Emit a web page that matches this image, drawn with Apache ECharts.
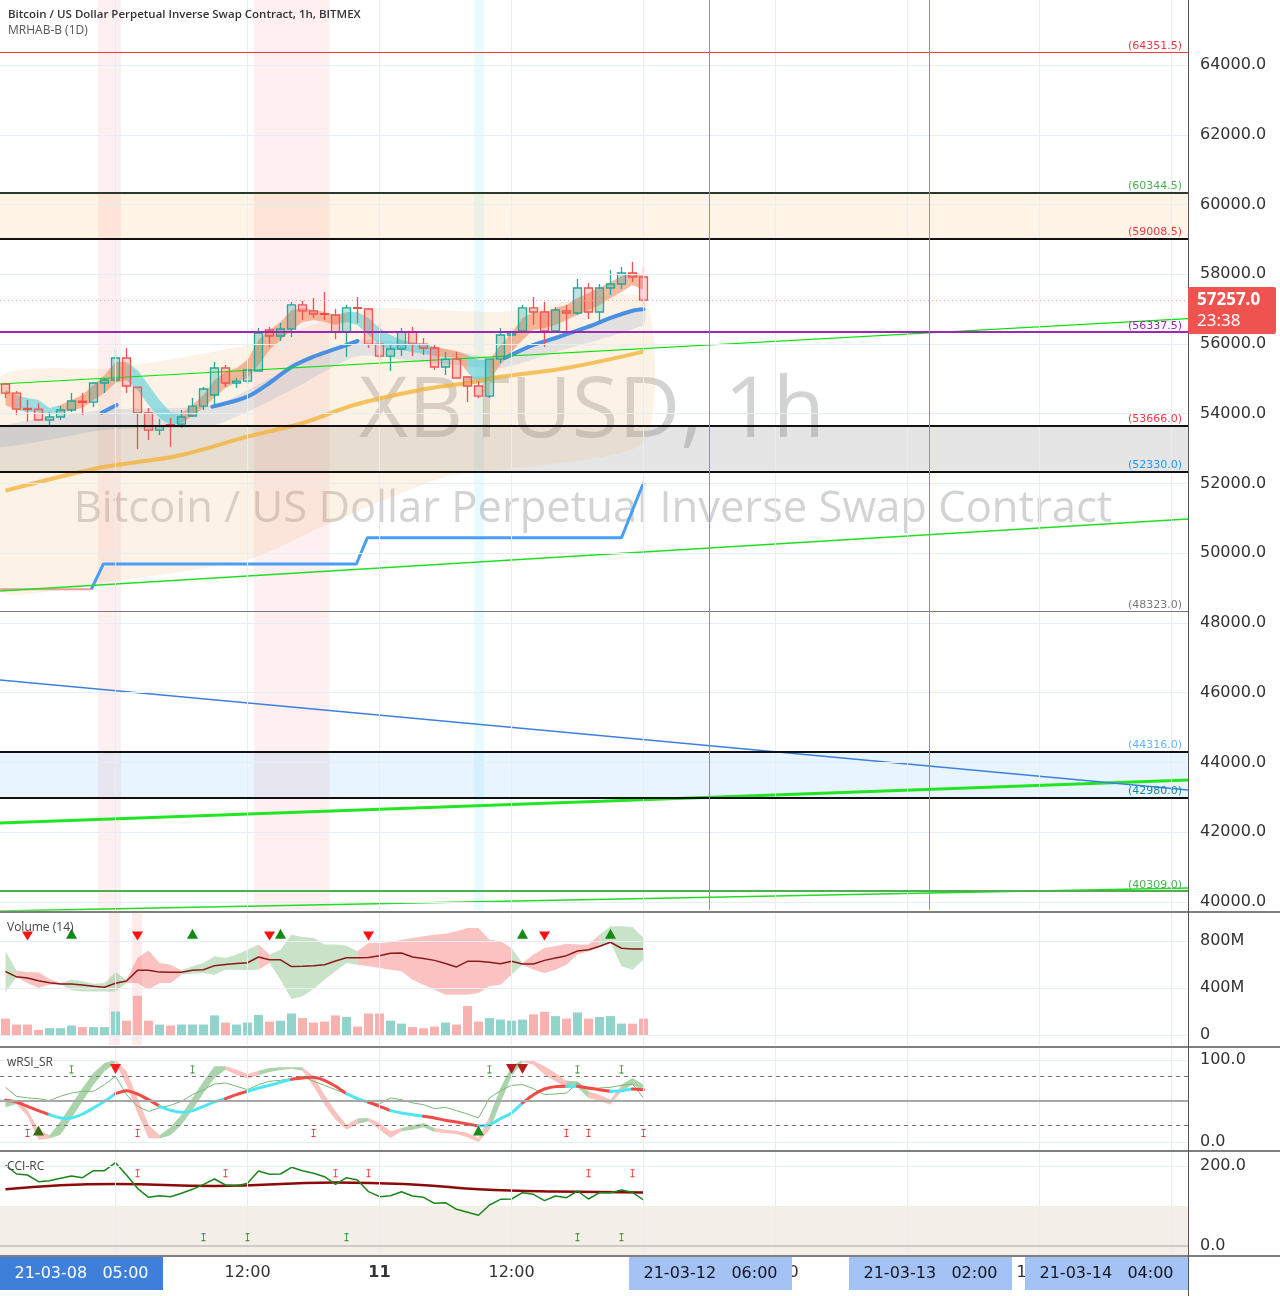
<!DOCTYPE html>
<html>
<head>
<meta charset="utf-8">
<script src="https://cdn.jsdelivr.net/npm/echarts@6/dist/echarts.min.js"></script>
<style>
  html, body { margin: 0; padding: 0; background: #fff; }
  #main { width: 1280px; height: 1296px; }
</style>
</head>
<body>
<div id="main"></div>
<script>
// ---- data (hour slots from 2021-03-09 14:00) ----
var START = Date.UTC(2021, 2, 9, 14);
var categories = [];
for (var h = 0; h < 108; h++) {
  categories.push(new Date(START + h * 3600e3).toISOString().slice(0, 13).replace('T', ' ') + ':00');
}
var tickIndex = [10, 22, 34, 46, 58, 70, 82, 94, 106];
var tickText = ['10', '12:00', '11', '12:00', '12', '12:00', '13', '12:00', '14'];
var priceTicks = [40000, 42000, 44000, 46000, 48000, 50000, 52000, 54000, 56000, 58000, 60000, 62000, 64000];
var priceMin = 39770, priceMax = 65864;

// open, close, low, high
var candles = [
  [54852, 54594, 54451, 54881], [54594, 54135, 53963, 54650], [54150, 54120, 53780, 54394], [54135, 53820, 53800, 54300],
  [53820, 53906, 53648, 54050], [53906, 54107, 53820, 54221], [54107, 54365, 54050, 54594], [54360, 54330, 53963, 54594],
  [54336, 54881, 54190, 54910], [54881, 54967, 54594, 55025], [54967, 55598, 54881, 55830], [55598, 54795, 54594, 55885],
  [54766, 54021, 52988, 54766], [54021, 53533, 53246, 54164], [53533, 53648, 53390, 53850], [53690, 53670, 53050, 53880],
  [53705, 53906, 53600, 54107], [53935, 54221, 53906, 54451], [54221, 54709, 54107, 54766], [54537, 55311, 54250, 55483],
  [55311, 54881, 54766, 55397], [54881, 54938, 54740, 55025], [54938, 55254, 54852, 55569], [55225, 56316, 55225, 56459],
  [56402, 56229, 55913, 56488], [56229, 56430, 56086, 56602], [56430, 57119, 56201, 57205], [57119, 56947, 56689, 57233],
  [56947, 56860, 56746, 57319], [56870, 56850, 56689, 57491], [56832, 56344, 56143, 57004], [56344, 57033, 55627, 57119],
  [57040, 57020, 56602, 57348], [57004, 55999, 55885, 57033], [55999, 55655, 55541, 56574], [55655, 55856, 55225, 55971],
  [55856, 56344, 55655, 56459], [56344, 55999, 55655, 56488], [55999, 55885, 55684, 56172], [55885, 55340, 55254, 55971],
  [55340, 55569, 55110, 55770], [55569, 55025, 55000, 55770], [55053, 54795, 54336, 55082], [54795, 54508, 54451, 54938],
  [54508, 55569, 54451, 55569], [55569, 56258, 55455, 56459], [56258, 56316, 55799, 56459], [56373, 57033, 56373, 57119],
  [57033, 56918, 56545, 57348], [56918, 56373, 55913, 57205], [56373, 56975, 56316, 57062], [56947, 56889, 56373, 57119],
  [56889, 57606, 56832, 57864], [57606, 56918, 56717, 57750], [56918, 57606, 56631, 57721], [57606, 57721, 57405, 58122],
  [57721, 58036, 57577, 58208], [58036, 57921, 57778, 58352], [57921, 57257, 57090, 58208]
];
var lastPrice = 57257.0;

// MRHAB ribbon (top / bottom), 1 = rising (salmon), 0 = falling (cyan)
var ribHi = [54681,54538,54452,54394,54165,54251,54394,54538,54825,55111,55484,55484,55255,54825,54394,54050,54022,54251,54538,54968,
  55197,55312,55541,56115,56402,56631,56975,57032,56975,56918,56832,56918,56918,56746,56459,56258,56115,56057,56000,55914,
  55857,55800,55685,55541,55541,55971,56316,56746,56918,56889,57032,57118,57319,57463,57606,57778,57950,58065,57979];
var ribLo = [54251,54108,54050,54050,53964,54022,54108,54165,54394,54595,54882,54968,54681,54251,53878,53677,53735,53936,54165,54480,
  54739,54911,55025,55398,55828,56115,56402,56631,56688,56631,56545,56631,56545,56258,55971,55828,55828,55771,55713,55656,
  55627,55599,55197,54853,54968,55398,55771,56115,56402,56459,56545,56688,56832,56975,57118,57319,57491,57692,57549];
var ribDir = [1,0,0,0,0,1,1,1,1,1,1,0,0,0,0,0,1,1,1,1,1,1,1,1,1,1,1,1,1,1,1,0,0,0,0,0,0,0,0,1,1,1,0,0,1,1,1,1,1,1,1,1,1,1,1,1,1,1,0];

var maSlow = [[0,51794],[8,52416],[12,52617],[16,52818],[22,53342],[27,53735],[32,54280],[38,54700],[42,54880],[45,55063],[51,55312],[58,55780]];
var maFast = [[8.75,54030],[10.1,54251],[10.5,'-'],[18.8,54203],[22,54489],[24,54882],[26,55341],[28,55636],[30,55857],[32,56086],[32.5,'-'],
  [45.4,55599],[48,55972],[50,56172],[53,56496],[55,56746],[57,56955],[58,56995]];
var fastBandHi = [[-0.5,53620],[9,54108],[19,54251],[26,55341],[32,56115],[38,55971],[45,55599],[50,56172],[58,57003]];
var fastBandLo = [[-0.5,53047],[9,53534],[19,53677],[26,54681],[32,55656],[38,55484],[45,55312],[50,55771],[58,56545]];
var cloudHi = [[-0.5,55025],[10,55312],[22,55971],[30,56746],[34,57032],[45,56918],[58,57319]];
var cloudLo = [[-0.5,48946],[8.4,49147],[22,49806],[29.5,50867],[40,52186],[58,53161]];

var stepX = [7.8, 8.9, 31.9, 32.9, 56, 58];
var stepY = [48967, 49692, 49692, 50446, 50446, 52023];
var baseX = [-0.5, 7.8];
var baseY = [48967, 48967];

var levelPrices = [64351.5, 60344.5, 59008.5, 56337.5, 53666.0, 52330.0, 48323.0, 44316.0, 42980.0, 40309.0];
var zonePairs = [[60344.5, 59008.5], [53666.0, 52330.0], [44316.0, 42980.0]];
// trend lines: price at left edge, price at right edge
var trendLeft = [54853, 48918, 42265, 39742, 46366];
var trendRight = [56726, 50982, 43498, 40402, 43212];
var markedHours = [64, 84];
var pinkBars = [[8.41, 10.5], [22.57, 29.45]];
var cyanBars = [[42.6, 43.5]];
var volPinkBars = [[9.4, 10.4], [11.5, 12.4]];

// volume (millions)
var volumes = [139,89,89,44,58,58,81,67,67,67,200,122,333,122,89,81,89,89,89,167,106,89,106,170,114,122,183,144,106,114,
  167,153,72,183,183,122,97,67,58,72,106,89,247,114,144,131,122,131,175,197,161,139,192,139,153,161,97,97,139];
var volMa = [540,495,485,462,445,434,434,425,414,406,440,460,550,550,535,533,533,550,555,590,600,608,615,664,640,640,582,585,590,598,
  630,658,658,660,675,695,698,664,650,635,608,579,627,627,620,607,627,604,604,635,655,675,715,726,755,789,738,732,732];
var volHi = [712,548,534,534,476,443,471,457,437,443,534,471,655,720,612,598,550,584,612,670,655,684,726,769,684,726,854,834,825,769,
  769,760,712,783,783,789,811,825,840,854,862,882,911,911,811,797,741,613,684,741,755,777,769,769,854,925,925,919,825];
var volLo = [363,491,443,400,428,434,380,371,371,371,371,443,443,386,443,443,513,522,528,513,556,556,550,556,613,471,306,329,392,471,
  542,613,598,584,570,556,542,471,428,386,343,343,343,357,414,428,513,598,556,528,556,598,684,712,740,789,584,556,641];
var volDir = [1,0,0,0,0,1,1,1,1,1,1,0,0,0,0,0,1,1,1,1,1,1,1,0,1,1,1,1,1,1,1,1,0,0,0,0,0,0,0,0,0,0,0,0,0,0,1,0,0,0,0,0,0,0,1,1,1,1,1];
var volDownMarks = [2, 12, 24, 33, 49];
var volUpMarks = [6, 17, 25, 47, 55];

// wRSI_SR
var rsiLine = [50.8,48.8,43.5,38.2,33.3,29.3,29.3,34.1,41.5,49.6,58.9,62.6,58.5,51.6,43.5,38.6,36.2,38.2,43.5,48.8,
  52.8,57.7,61.8,65.9,69.1,72.8,76.4,78.0,78.9,75.2,67.9,58.9,52.8,48.4,43.5,38.2,35.4,33.3,31.3,29.3,
  26.4,24.4,22.0,19.5,21.1,28.5,35.4,47.6,57.7,64.6,67.5,67.9,67.9,65.9,63.8,61.8,62.6,64.6,63.8];
var rsiLineDir = [0,0,0,0,1,1,1,1,1,1,0,0,0,0,1,1,1,1,1,1,0,0,1,1,1,1,0,0,0,0,0,1,1,0,0,1,1,1,0,0,0,0,0,1,1,1,1,0,0,0,0,1,0,0,0,1,1,0,0];
var rsiRaw = [66.6,55.7,53.7,52.8,50.4,55.7,59.7,61.8,61.8,69.9,80.1,57.7,43.5,37.4,41.5,44.7,49.6,57.7,63.8,70.7,
  71.9,67.9,63.8,69.9,74.0,75.2,77.2,80.1,74.0,69.1,63.8,58.5,51.6,47.6,46.3,53.7,51.6,47.6,45.5,40.6,
  42.3,38.2,34.1,29.3,53.7,62.6,69.1,69.9,65.0,57.7,58.5,59.7,71.9,63.8,65.9,66.6,69.1,70.7,53.7];
var rsiRibHi = [52.8,50.4,39.4,15.0,8.1,25.2,45.5,65.9,84.1,96.3,100.4,86.2,53.7,21.1,8.1,17.9,33.3,53.7,74.0,92.3,
  92.3,88.2,82.9,87.0,90.2,91.1,91.1,91.1,80.1,57.7,37.4,21.1,28.5,29.3,23.2,13.0,17.1,20.3,23.2,17.1,
  15.0,13.8,11.0,4.9,31.3,65.9,92.3,100.4,99.2,92.3,84.1,74.8,74.0,61.8,57.7,51.6,69.9,78.0,69.9];
var rsiRibLo = [42.3,46.3,31.3,2.8,4.1,8.9,29.3,49.6,69.9,86.2,96.3,69.9,35.4,4.9,4.1,8.1,21.1,39.4,59.7,78.0,
  88.2,82.1,77.2,81.3,85.4,87.8,89.4,87.0,67.9,45.5,27.2,15.0,21.9,25.2,15.0,4.9,13.0,15.0,17.9,12.2,
  11.0,9.8,5.7,0.0,15.0,47.6,80.1,97.6,94.3,82.1,74.0,65.9,66.7,53.7,50.4,45.5,61.8,69.9,61.8];
var rsiRibDir = [1,0,0,0,1,1,1,1,1,1,0,0,0,0,1,1,1,1,1,1,0,0,0,1,1,1,1,0,0,0,0,0,1,0,0,0,1,1,1,0,0,0,0,0,1,1,1,0,0,0,0,1,1,0,0,0,1,1,0];
var rsiSellMarks = [10];
var rsiSellDarkMarks = [46, 47];
var rsiBuyDarkMarks = [3];
var rsiBuyMarks = [43];
var rsiTopTicks = [6, 17, 44, 52, 56];
var rsiBottomTicks = [2, 12, 28, 51, 53, 58];

// CCI-RC
var cciLine = [202.5,180,177.5,160.8,163.3,169.2,175,170.8,188.3,188.3,208.3,177.5,144.2,121.7,125.8,123.3,131.7,141.7,154.2,167.5,
  152.5,150,156.7,187.5,179.2,180,196.7,188.3,181.7,173.3,154.2,170.8,165,135.8,123.3,125.8,135.8,125,121.7,106.7,
  108.3,91.7,84.2,76.7,102.5,116.7,117.5,133.3,129.2,113.3,125,120.8,137.5,117.5,133.3,133.3,140,134.2,115];
var cciSignal = [[0,142],[10,155],[19,150],[30,159],[37,154],[43,142],[50,136],[58,134]];
var cciTopTicks = [12, 20, 30, 33, 53, 57];
var cciBottomTicks = [18, 22, 31, 52, 56];

// ---- helpers ----
var FONT = 'DejaVu Sans';
var GRID_LINE = '#e6edf3';

function runs(dir) {
  var out = [], s = 0;
  for (var i = 1; i < dir.length - 1; i++) {
    if (dir[i] !== dir[s]) { out.push([s, i, dir[s]]); s = i; }
  }
  out.push([s, dir.length - 1, dir[s]]);
  return out;
}
function bandSeries(xi, yi, hi, lo, dir, colors, z) {
  return {
    type: 'custom', xAxisIndex: xi, yAxisIndex: yi, z: z, silent: true,
    encode: { x: 0 },
    data: runs(dir),
    renderItem: function (params, api) {
      var s = api.value(0), e = api.value(1), d = api.value(2), pts = [], i;
      for (i = s; i <= e; i++) pts.push(api.coord([i, hi[i]]));
      for (i = e; i >= s; i--) pts.push(api.coord([i, lo[i]]));
      return { type: 'polygon', shape: { points: pts }, style: { fill: colors[d] } };
    }
  };
}
function segLineSeries(xi, yi, vals, dir, colors, width, z) {
  return {
    type: 'custom', xAxisIndex: xi, yAxisIndex: yi, z: z, silent: true,
    encode: { x: 0 },
    data: runs(dir),
    renderItem: function (params, api) {
      var s = api.value(0), e = api.value(1), d = api.value(2), pts = [];
      for (var i = s; i <= e; i++) pts.push(api.coord([i, vals[i]]));
      return { type: 'polyline', shape: { points: pts, smooth: 0.25 },
        style: { stroke: colors[d], lineWidth: width, fill: 'none', lineCap: 'round', lineJoin: 'round' } };
    }
  };
}
function areaSeries(xi, yi, hiPts, loPts, color, z) {
  return {
    type: 'custom', xAxisIndex: xi, yAxisIndex: yi, z: z, silent: true,
    encode: { x: 0 }, data: [[0]],
    renderItem: function (params, api) {
      var pts = hiPts.map(function (p) { return api.coord(p); });
      loPts.slice().reverse().forEach(function (p) { pts.push(api.coord(p)); });
      return { type: 'polygon', shape: { points: pts, smooth: 0.2 }, style: { fill: color } };
    }
  };
}
function marks(xi, yi, idx, val, symbol, size, color, rotate) {
  return {
    type: 'scatter', xAxisIndex: xi, yAxisIndex: yi, z: 8, silent: true,
    symbol: symbol, symbolSize: size, symbolRotate: rotate || 0,
    itemStyle: { color: color, opacity: 1 },
    data: idx.map(function (i) { return [i, val]; })
  };
}
var IBEAM = 'path://M0,0H5V1.2H3V8.8H5V10H0V8.8H2V1.2H0Z';
var vGrid = tickIndex.map(function (x) { return { xAxis: x }; });

// ---- axes ----
var grids = [
  { left: 0, right: 92, top: 0, height: 910 },
  { left: 0, right: 92, top: 913, height: 132 },
  { left: 0, right: 92, top: 1048, height: 102 },
  { left: 0, right: 92, top: 1152, height: 103 }
];
var xAxes = [];
grids.forEach(function (g, gi) {
  var last = gi === 3;
  var showTick = function (i) { return tickIndex.indexOf(i) >= 0; };
  xAxes.push({
    type: 'category', gridIndex: gi, data: categories, boundaryGap: true,
    axisLine: { show: false },
    axisTick: { show: last, alignWithLabel: true, interval: showTick, length: 4, lineStyle: { color: '#555' } },
    splitLine: { show: false },
    axisLabel: {
      show: last, interval: showTick, margin: 10, fontSize: 16, color: '#333', fontFamily: FONT,
      formatter: function (v, i) {
        var t = tickText[tickIndex.indexOf(i)] || '';
        return t.indexOf(':') >= 0 ? t : '{b|' + t + '}';
      },
      rich: { b: { fontWeight: 'bold', fontSize: 16, color: '#333', fontFamily: FONT } }
    }
  });
  xAxes.push({ type: 'value', gridIndex: gi, min: -0.5, max: 107.5, show: false });
});

function yAxis(gi, min, max, ticks, fmt) {
  return {
    type: 'value', gridIndex: gi, position: 'right', min: min, max: max, scale: true,
    axisLine: { show: false }, splitLine: { show: false },
    axisTick: { show: true, customValues: ticks, length: 5, lineStyle: { color: '#555' } },
    axisLabel: { customValues: ticks, formatter: fmt, fontSize: 16, color: '#333', margin: 12, fontFamily: FONT }
  };
}
var fix1 = function (v) { return v.toFixed(1); };
var yAxes = [
  yAxis(0, priceMin, priceMax, priceTicks, fix1),
  yAxis(1, -85, 1038, [0, 400, 800], function (v) { return v === 0 ? '0' : v + 'M'; }),
  yAxis(2, -9.8, 114.6, [0, 100], fix1),
  yAxis(3, -22.5, 235, [0, 200], fix1)
];

// ---- main pane series ----
var levelStyles = [
  { c: '#f23645', w: 1, l: '#f23645' }, { c: '#2a3a2a', w: 2, l: '#4caf50' }, { c: '#111', w: 2, l: '#f23645' },
  { c: '#9c27b0', w: 2, l: '#9c27b0' }, { c: '#111', w: 2, l: '#f23645' }, { c: '#111', w: 2, l: '#2196f3' },
  { c: '#7a7a7a', w: 1, l: '#7a7a7a' }, { c: '#111', w: 2, l: '#64b5f6' }, { c: '#111', w: 2, l: '#138a9a' },
  { c: '#4caf50', w: 2, l: '#4caf50' }
];
var zoneColors = ['rgba(255,152,0,0.10)', 'rgba(110,110,110,0.18)', 'rgba(33,150,243,0.10)'];
var trendStyles = [
  { c: '#00e600', w: 1.2 }, { c: '#1fe01f', w: 1.6 }, { c: '#22e622', w: 3 }, { c: '#22dd22', w: 1.6 }, { c: '#3d7fe0', w: 1.5 }
];
var MARK_BLUE = '#5b9df0';

var series = [];
series.push({
  type: 'line', xAxisIndex: 1, yAxisIndex: 0, data: [], z: 1, silent: true,
  markLine: { symbol: 'none', silent: true, label: { show: false }, lineStyle: { color: GRID_LINE, width: 1, type: 'solid' },
    data: vGrid.concat(priceTicks.map(function (p) { return { yAxis: p }; })) },
  markArea: { silent: true,
    data: pinkBars.map(function (b) { return [{ xAxis: b[0], itemStyle: { color: 'rgba(242,54,69,0.08)' } }, { xAxis: b[1] }]; })
      .concat(cyanBars.map(function (b) { return [{ xAxis: b[0], itemStyle: { color: 'rgba(0,220,255,0.09)' } }, { xAxis: b[1] }]; }))
      .concat(zonePairs.map(function (z, k) { return [{ yAxis: z[0], itemStyle: { color: zoneColors[k] } }, { yAxis: z[1] }]; })) }
});
series.push(areaSeries(1, 0, cloudHi, cloudLo, 'rgba(240,190,130,0.2)', 1));
series.push(areaSeries(1, 0, fastBandHi, fastBandLo, 'rgba(90,130,190,0.15)', 2));
series.push(bandSeries(1, 0, ribHi, ribLo, ribDir, ['rgba(70,205,220,0.55)', 'rgba(242,140,95,0.6)'], 2));
series.push({ type: 'line', xAxisIndex: 1, yAxisIndex: 0, data: maSlow, smooth: 0.4, symbol: 'none', z: 3, silent: true,
  lineStyle: { color: 'rgba(242,180,60,0.8)', width: 4 } });
series.push({ type: 'line', xAxisIndex: 1, yAxisIndex: 0, data: maFast, smooth: 0.3, symbol: 'none', z: 3, silent: true,
  connectNulls: false, lineStyle: { color: '#4a90e2', width: 4, cap: 'round' } });
series.push({ type: 'line', xAxisIndex: 1, yAxisIndex: 0, symbol: 'none', z: 3, silent: true,
  data: baseX.map(function (x, i) { return [x, baseY[i]]; }), lineStyle: { color: '#ef9a9a', width: 2 } });
series.push({ type: 'line', xAxisIndex: 1, yAxisIndex: 0, symbol: 'none', z: 3, silent: true,
  data: stepX.map(function (x, i) { return [x, stepY[i]]; }), lineStyle: { color: '#4a9ef5', width: 3 } });
trendLeft.forEach(function (p, k) {
  series.push({ type: 'line', xAxisIndex: 1, yAxisIndex: 0, symbol: 'none', z: 3, silent: true,
    data: [[-0.5, p], [107.5, trendRight[k]]], lineStyle: { color: trendStyles[k].c, width: trendStyles[k].w } });
});
series.push({
  type: 'candlestick', xAxisIndex: 0, yAxisIndex: 0, z: 4, barWidth: 8, data: candles, silent: true,
  itemStyle: { color: 'rgba(38,166,154,0.3)', color0: 'rgba(239,83,80,0.25)', borderColor: '#26a69a', borderColor0: '#ef5350', borderWidth: 1.3 }
});
// marked hours as plain vertical line series across the whole price pane
markedHours.forEach(function (x) {
  series.push({ type: 'line', xAxisIndex: 1, yAxisIndex: 0, symbol: 'none', z: 5, silent: true,
    data: [[x, priceMin], [x, priceMax]], lineStyle: { color: MARK_BLUE, width: 1 } });
});
series.push({
  type: 'line', xAxisIndex: 1, yAxisIndex: 0, data: [], z: 6, silent: true,
  markLine: { symbol: 'none', silent: true,
    data: levelPrices.map(function (p, k) {
      var s = levelStyles[k];
      return { yAxis: p, lineStyle: { color: s.c, width: s.w, type: 'solid' },
        label: { show: true, position: 'insideEndTop', formatter: '(' + p.toFixed(1) + ')', color: s.l, fontSize: 11, fontFamily: FONT, distance: [6, 1] } };
    }).concat([{ yAxis: lastPrice, lineStyle: { color: '#f7a1a1', width: 1, type: [1, 3] }, label: { show: false } }])
  }
});

// ---- volume pane ----
series.push({
  type: 'line', xAxisIndex: 3, yAxisIndex: 1, data: [], z: 1, silent: true,
  markLine: { symbol: 'none', silent: true, label: { show: false }, lineStyle: { color: GRID_LINE, width: 1, type: 'solid' },
    data: vGrid.concat([{ yAxis: 0 }, { yAxis: 400 }, { yAxis: 800 }]) },
  markArea: { silent: true, data: volPinkBars.map(function (b) { return [{ xAxis: b[0], itemStyle: { color: 'rgba(242,54,69,0.1)' } }, { xAxis: b[1] }]; }) }
});
series.push(bandSeries(3, 1, volHi, volLo, volDir, ['rgba(246,110,110,0.42)', 'rgba(100,175,100,0.35)'], 2));
series.push({
  type: 'bar', xAxisIndex: 2, yAxisIndex: 1, z: 3, barWidth: 9, silent: true,
  data: volumes.map(function (v, i) {
    var up = candles[i][1] >= candles[i][0];
    return { value: v, itemStyle: { color: up ? '#92d3cb' : '#f7b2b0' } };
  })
});
series.push({ type: 'line', xAxisIndex: 2, yAxisIndex: 1, data: volMa, symbol: 'none', z: 4, silent: true,
  lineStyle: { color: '#8b1a1a', width: 1.5 } });
series.push(marks(3, 1, volDownMarks, 842, 'triangle', [11, 9], '#ff1010', 180));
series.push(marks(3, 1, volUpMarks, 862, 'triangle', [11, 10], '#138a13', 0));

// ---- wRSI pane ----
series.push({
  type: 'line', xAxisIndex: 5, yAxisIndex: 2, data: [], z: 1, silent: true,
  markLine: { symbol: 'none', silent: true, label: { show: false },
    data: vGrid.map(function (d) { return { xAxis: d.xAxis, lineStyle: { color: GRID_LINE, width: 1, type: 'solid' } }; })
      .concat([
        { yAxis: 100, lineStyle: { color: GRID_LINE, width: 1, type: 'solid' } },
        { yAxis: 0, lineStyle: { color: GRID_LINE, width: 1, type: 'solid' } },
        { yAxis: 80, lineStyle: { color: '#777', width: 1, type: [4, 4] } },
        { yAxis: 20, lineStyle: { color: '#777', width: 1, type: [4, 4] } },
        { yAxis: 50, lineStyle: { color: '#a8a8a8', width: 2, type: 'solid' } }
      ]) }
});
series.push(bandSeries(5, 2, rsiRibHi, rsiRibLo, rsiRibDir, ['rgba(246,120,110,0.45)', 'rgba(90,170,90,0.5)'], 2));
series.push({ type: 'line', xAxisIndex: 4, yAxisIndex: 2, data: rsiRaw, symbol: 'none', z: 3, silent: true,
  lineStyle: { color: '#78b878', width: 1 } });
series.push(segLineSeries(5, 2, rsiLine, rsiLineDir, ['#f44a45', '#4ee6f2'], 3, 4));
series.push(marks(5, 2, rsiSellMarks, 89, 'triangle', [11, 10], '#ff1a1a', 180));
series.push(marks(5, 2, rsiSellDarkMarks, 89, 'triangle', [11, 10], '#b01e1e', 180));
series.push(marks(5, 2, rsiBuyDarkMarks, 14, 'triangle', [11, 10], '#3d6b12', 0));
series.push(marks(5, 2, rsiBuyMarks, 14, 'triangle', [11, 10], '#1c8a1c', 0));
series.push(marks(5, 2, rsiTopTicks, 88.5, IBEAM, [4, 8], '#1e8c1e', 0));
series.push(marks(5, 2, rsiBottomTicks, 11, IBEAM, [4, 8], '#ff3030', 0));

// ---- CCI pane ----
series.push({
  type: 'line', xAxisIndex: 7, yAxisIndex: 3, data: [], z: 1, silent: true,
  markArea: { silent: true, data: [[{ yAxis: 100, itemStyle: { color: '#f3efe8' } }, { yAxis: -100 }]] },
  markLine: { symbol: 'none', silent: true, label: { show: false },
    data: vGrid.map(function (d) { return { xAxis: d.xAxis, lineStyle: { color: GRID_LINE, width: 1, type: 'solid' } }; })
      .concat([
        { yAxis: 200, lineStyle: { color: GRID_LINE, width: 1, type: 'solid' } },
        { yAxis: 0, lineStyle: { color: '#cfcac2', width: 2, type: 'solid' } }
      ]) }
});
series.push({ type: 'line', xAxisIndex: 7, yAxisIndex: 3, data: cciSignal, smooth: 0.5, symbol: 'none', z: 3, silent: true,
  lineStyle: { color: '#8b0a0a', width: 2.5 } });
series.push({ type: 'line', xAxisIndex: 6, yAxisIndex: 3, data: cciLine, symbol: 'none', z: 4, silent: true,
  lineStyle: { color: '#1a861a', width: 1.5 } });
series.push(marks(7, 3, cciTopTicks, 182, IBEAM, [4, 8], '#ff3030', 0));
series.push(marks(7, 3, cciBottomTicks, 22, IBEAM, [4, 8], '#1e8c1e', 0));

// ---- overlays ----
function hline(y) { return { type: 'line', z: 100, silent: true, shape: { x1: 0, y1: y, x2: 1280, y2: y }, style: { stroke: '#555', lineWidth: 1.5 } }; }
function dateBox(x, w, label, dark) {
  return { type: 'group', z: 100, silent: true, children: [
    { type: 'rect', shape: { x: x, y: 1257, width: w, height: 33 }, style: { fill: dark ? '#3d7fd9' : '#a4c2f4' }, z: 100 },
    { type: 'text', x: x + w / 2, y: 1273.5, z: 101,
      style: { text: label, fill: dark ? '#fff' : '#131722', font: '16px "' + FONT + '"', align: 'center', verticalAlign: 'middle' } }
  ] };
}
var graphics = [
  { type: 'text', z: 0, silent: true, x: 592, y: 413,
    style: { text: 'XBTUSD, 1h', fill: 'rgba(110,110,110,0.3)', font: '85px "Open Sans"', align: 'center', verticalAlign: 'middle' } },
  { type: 'text', z: 0, silent: true, x: 593, y: 510,
    style: { text: 'Bitcoin / US Dollar Perpetual Inverse Swap Contract', fill: 'rgba(110,110,110,0.3)', font: '43.5px "Open Sans"', align: 'center', verticalAlign: 'middle' } },
  { type: 'text', z: 100, silent: true, x: 8, y: 15,
    style: { text: 'Bitcoin / US Dollar Perpetual Inverse Swap Contract, 1h, BITMEX', fill: '#333', font: '600 11.5px "Open Sans"', verticalAlign: 'middle' } },
  { type: 'text', z: 100, silent: true, x: 8, y: 31,
    style: { text: 'MRHAB-B (1D)', fill: '#555', font: '12px "Open Sans"', verticalAlign: 'middle' } },
  { type: 'text', z: 100, silent: true, x: 7, y: 928, style: { text: 'Volume (14)', fill: '#444', font: '12px "Open Sans"', verticalAlign: 'middle' } },
  { type: 'text', z: 100, silent: true, x: 7, y: 1063, style: { text: 'wRSI_SR', fill: '#444', font: '12px "Open Sans"', verticalAlign: 'middle' } },
  { type: 'text', z: 100, silent: true, x: 7, y: 1167, style: { text: 'CCI-RC', fill: '#444', font: '12px "Open Sans"', verticalAlign: 'middle' } },
  hline(912), hline(1047), hline(1151), hline(1256),
  { type: 'line', z: 100, silent: true, shape: { x1: 1188.5, y1: 0, x2: 1188.5, y2: 1296 }, style: { stroke: '#555', lineWidth: 1 } },
  { type: 'group', z: 100, silent: true, children: [
    { type: 'rect', shape: { x: 1188, y: 287, width: 88, height: 47, r: 2 }, style: { fill: '#ef5350' }, z: 100 },
    { type: 'text', x: 1197, y: 300, z: 101, style: { text: lastPrice.toFixed(1), fill: '#fff', font: 'bold 17px "Noto Sans"', verticalAlign: 'middle' } },
    { type: 'text', x: 1197, y: 321, z: 101, style: { text: '23:38', fill: '#fff', font: '17px "Noto Sans"', verticalAlign: 'middle' } }
  ] },
  dateBox(0, 163, '21-03-08   05:00', true),
  dateBox(629, 163, '21-03-12   06:00', false),
  dateBox(849, 163, '21-03-13   02:00', false),
  dateBox(1025, 163, '21-03-14   04:00', false)
];

var chart = echarts.init(document.getElementById('main'), null, { renderer: 'canvas' });
chart.setOption({
  animation: false,
  backgroundColor: '#ffffff',
  textStyle: { fontFamily: FONT },
  grid: grids,
  xAxis: xAxes,
  yAxis: yAxes,
  series: series,
  graphic: graphics
});
</script>
</body>
</html>
